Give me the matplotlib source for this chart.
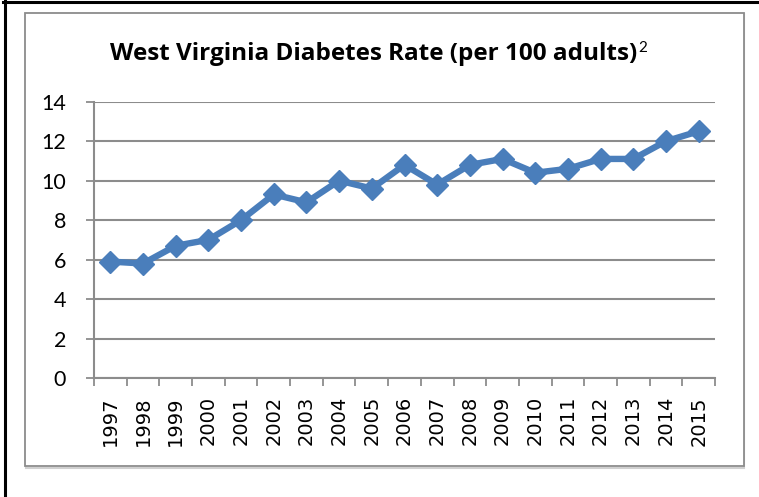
import matplotlib
matplotlib.use("Agg")
import matplotlib.pyplot as plt
from matplotlib.patches import Rectangle
from matplotlib.lines import Line2D

years = ["1997", "1998", "1999", "2000", "2001", "2002", "2003", "2004", "2005", "2006",
         "2007", "2008", "2009", "2010", "2011", "2012", "2013", "2014", "2015"]
rates = [5.9, 5.8, 6.7, 7.0, 8.0, 9.3, 8.9, 10.0, 9.6, 10.8,
         9.8, 10.8, 11.1, 10.4, 10.6, 11.1, 11.1, 12.0, 12.5]
y_ticks = [0, 2, 4, 6, 8, 10, 12, 14]
title = "West Virginia Diabetes Rate (per 100 adults)"

W, H = 759, 497
fig = plt.figure(figsize=(W / 100, H / 100), dpi=100)

def fx(px):
    return px / W

def fy(py):
    return 1 - py / H

# outer black border (top and left)
fig.add_artist(Line2D([fx(3), fx(759)], [fy(2), fy(2)], color="black", lw=2.2, zorder=-3))
fig.add_artist(Line2D([fx(5), fx(5)], [fy(0), fy(497)], color="black", lw=2.2, zorder=-3))
# chart frame with slight shadow
fig.add_artist(Rectangle((fx(26), fy(467.5)), fx(744) - fx(26), fy(14) - fy(467.5),
                         facecolor="none", edgecolor="#d0d0d0", lw=1.5, zorder=-3))
fig.add_artist(Rectangle((fx(25), fy(466)), fx(744) - fx(25), fy(13) - fy(466),
                         facecolor="white", edgecolor="#8c8c8c", lw=1.3, zorder=-2))

ax = fig.add_axes([fx(94), fy(378), fx(715) - fx(94), fy(101.7) - fy(378)])
ax.set_facecolor("none")
x = list(range(len(years)))
ax.plot(x, rates, color="#4A7EBB", lw=4.6, marker="D", markersize=11,
        markerfacecolor="#4A7EBB", markeredgecolor="#4A7EBB", zorder=3,
        solid_joinstyle="round")

ax.set_xlim(-0.5, len(years) - 0.5)
ax.set_ylim(0, 14)
ax.set_yticks(y_ticks)
ax.set_yticklabels([str(v) for v in y_ticks], fontfamily="Lato", fontsize=15.5)
ax.yaxis.grid(True, color="#8c8c8c", lw=1.5)
ax.set_axisbelow(True)
ax.set_xticks(x)
ax.set_xticklabels(years, rotation=90, fontfamily="DejaVu Sans", fontsize=14)
ax.set_xticks([i - 0.5 for i in range(len(years) + 1)], minor=True)
ax.tick_params(axis="x", which="major", length=0, pad=13)
ax.tick_params(axis="x", which="minor", length=6, width=1.3, color="#8c8c8c", direction="out")
ax.tick_params(axis="y", which="major", length=6, width=1.3, color="#8c8c8c", pad=14)
for s in ["top", "right"]:
    ax.spines[s].set_visible(False)
for s in ["left", "bottom"]:
    ax.spines[s].set_color("#8c8c8c")
    ax.spines[s].set_linewidth(1.5)

t = fig.text(fx(110), fy(60), title, fontfamily="Open Sans", fontweight="bold",
             fontsize=14, ha="left", va="baseline")
fig.canvas.draw()
bb = t.get_window_extent()
t.set_fontsize(14 * 530 / bb.width)
fig.canvas.draw()
bb = t.get_window_extent()
fig.text((bb.x1 + 1) / W, fy(52), "2", fontfamily="Lato", fontsize=11,
         ha="left", va="baseline")

fig.savefig("out.png", dpi=100)
